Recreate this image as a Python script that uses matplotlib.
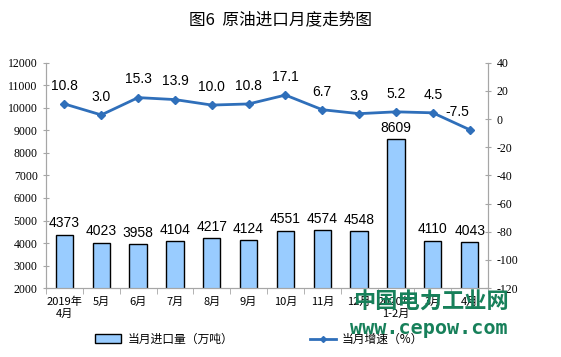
import numpy as np
import matplotlib.pyplot as plt
from matplotlib.patches import Patch
from matplotlib.lines import Line2D

plt.rcParams['font.family'] = ['Noto Sans CJK SC', 'DejaVu Sans']
plt.rcParams['axes.unicode_minus'] = False

months = ["2019年\n4月", "5月", "6月", "7月", "8月", "9月", "10月", "11月", "12月",
          "2020年\n1-2月", "3月", "4月"]
imports = [4373, 4023, 3958, 4104, 4217, 4124, 4551, 4574, 4548, 8609, 4110, 4043]
growth = [10.8, 3.0, 15.3, 13.9, 10.0, 10.8, 17.1, 6.7, 3.9, 5.2, 4.5, -7.5]

bar_color = "#99CCFF"
line_color = "#2F6FBA"
spine_color = "#A6A6A6"

fig = plt.figure(figsize=(5.61, 3.57), dpi=100)
ax = fig.add_axes([0.082, 0.193, 0.788, 0.631])
x = np.arange(len(months))

ax.bar(x, imports, width=0.47, color=bar_color, edgecolor="black", linewidth=1.0, zorder=2)
ax.set_ylim(2000, 12000)
ax.set_yticks(np.arange(2000, 12001, 1000))
ax.set_xlim(-0.5, len(months) - 0.5)
for xi, v in zip(x, imports):
    ax.annotate(str(v), (xi, v), xytext=(0, 3), textcoords="offset points",
                ha="center", va="bottom", fontsize=10, family="Liberation Sans")

ax2 = ax.twinx()
ax2.plot(x, growth, color=line_color, lw=2, marker="D", ms=4, zorder=3)
ax2.set_ylim(-120, 40)
ax2.set_yticks(np.arange(-120, 41, 20))
for xi, v in zip(x, growth):
    dx = -9 if v < 0 else 0
    ax2.annotate(f"{v:.1f}", (xi, v), xytext=(dx, 8), textcoords="offset points",
                 ha="center", va="bottom", fontsize=10, family="Liberation Sans")

# x ticks: category labels without marks, small marks at boundaries
ax.set_xticks(x)
ax.set_xticklabels(months, fontsize=8, linespacing=1.2)
ax.tick_params(axis="x", length=0, pad=6)
ax.set_xticks(np.arange(-0.5, len(months), 1), minor=True)
ax.tick_params(axis="x", which="minor", length=4, color=spine_color, direction="out")

for a in (ax, ax2):
    a.spines["top"].set_visible(False)
    for s in ("left", "right", "bottom"):
        a.spines[s].set_color(spine_color)
ax.tick_params(axis="y", direction="inout", length=5, color=spine_color, labelsize=8.5,
               labelfontfamily="Liberation Serif")
ax2.tick_params(axis="y", direction="inout", length=5, color=spine_color, labelsize=8.5,
                labelfontfamily="Liberation Serif")

fig.text(0.5, 0.945, "图6  原油进口月度走势图", ha="center", va="center", fontsize=12)

handles = [Patch(facecolor=bar_color, edgecolor="black", linewidth=1.0),
           Line2D([0], [0], color=line_color, lw=2, marker="D", ms=3)]
fig.legend(handles, ["当月进口量（万吨）", "当月增速（%）"], loc="center",
           bbox_to_anchor=(0.462, 0.05), ncol=2, frameon=False, fontsize=8.5,
           columnspacing=6.5, handlelength=2.2, handletextpad=0.5)

# site watermark
fig.text(0.768, 0.153, "中国电力工业网", ha="center", va="center", fontsize=16,
         color="#17805A", fontweight="bold", zorder=10)
fig.text(0.764, 0.081, "www.cepow.com", ha="center", va="center", fontsize=14.5,
         color="#17805A", fontweight="bold", family="DejaVu Sans Mono", zorder=10)

fig.savefig("out.png", dpi=100)
